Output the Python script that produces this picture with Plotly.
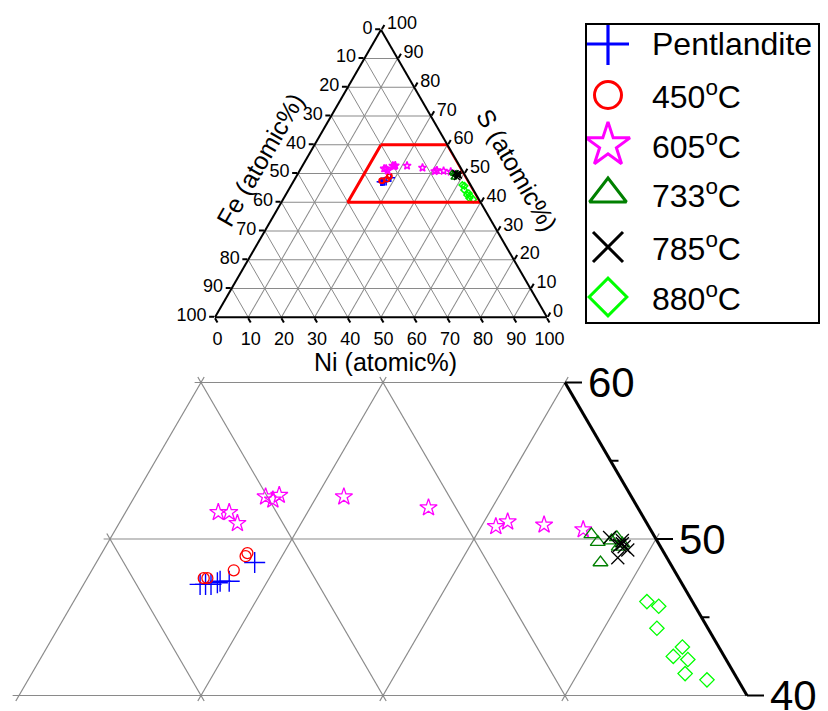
import plotly.graph_objects as go

FONT = "Liberation Sans, Arial, sans-serif"
W, H = 828, 711

# Compositions in atomic %; Fe is the balance (100 - S - Ni)
PENT_S = [47.1, 47.1, 47.1, 47.2, 47.3, 47.3, 48.5]
PENT_NI = [26.4, 26.7, 27.0, 27.3, 27.4, 27.9, 28.7]

T450_S = [47.5, 47.5, 48.0, 48.9, 49.1]
T450_NI = [26.4, 26.6, 27.8, 28.0, 28.0]

T605_S = [51.7, 51.7, 51.0, 52.7, 52.5, 52.8, 52.7, 52.0, 50.8, 51.1, 50.9, 50.6]
T605_NI = [25.1, 25.7, 26.5, 27.2, 27.7, 27.9, 31.5, 36.5, 40.8, 41.3, 43.4, 45.7]

T733_S = [50.3, 49.8, 48.5, 49.9, 50.1, 49.5, 49.7]
T733_NI = [46.3, 46.9, 47.7, 47.6, 47.8, 48.2, 48.3]

T785_S = [50.1, 48.8, 49.7, 49.5, 49.9, 49.3, 49.6]
T785_NI = [47.4, 48.5, 48.3, 48.5, 48.2, 48.8, 48.2]

T880_S = [46.0, 45.7, 44.3, 43.1, 42.5, 42.3, 41.4, 41.0]
T880_NI = [51.5, 52.3, 52.9, 54.9, 54.7, 55.6, 55.9, 57.3]

# Enlarged window: S between 40 and 60, Ni at least 20
WIN_S = [40, 60]
WIN_NI_MIN = 20
GRID_STEP = 10
TICK_VALUES = list(range(0, 101, 10))
WIN_LABELS = [40, 50, 60]
WIN_MINOR = [45, 55]

SERIES = [
    # name, S, Ni, symbol, colour, size (overview, window, key), line width (window, key)
    ("Pentlandite", PENT_S, PENT_NI, "cross-thin-open", "#0000ff", 6, 15, 30, 1.4, 3.2),
    ("450<sup>o</sup>C", T450_S, T450_NI, "circle-open", "#ff0000", 5, 11, 27, 1.3, 3.0),
    ("605<sup>o</sup>C", T605_S, T605_NI, "star-open", "#ff00ff", 6, 13, 33, 1.3, 3.0),
    ("733<sup>o</sup>C", T733_S, T733_NI, "triangle-up-open", "#008000", 5, 13, 32, 1.3, 3.0),
    ("785<sup>o</sup>C", T785_S, T785_NI, "x-thin-open", "#000000", 6, 13, 30, 1.3, 3.0),
    ("880<sup>o</sup>C", T880_S, T880_NI, "diamond-open", "#00ff00", 5, 11, 29, 1.3, 3.0),
]


def fe_of(s_list, ni_list):
    return [round(100 - s - n, 2) for s, n in zip(s_list, ni_list)]


def to_xy(s, ni):
    """Position inside the enlarged window: x runs along the Fe-Ni base, y is S."""
    return ni + s / 2.0, s


fig = go.Figure()

# ---------------- overview ternary diagram ----------------
for name, s, ni, sym, col, sz_top, _, _, _, _ in SERIES:
    fig.add_trace(go.Scatterternary(
        a=s, b=fe_of(s, ni), c=ni, mode="markers", subplot="ternary",
        marker=dict(symbol=sym, size=sz_top, color=col, line=dict(color=col, width=1.5)),
        showlegend=False, hoverinfo="skip"))

# red frame of the enlarged window
s_lo, s_hi = WIN_S
frame_s = [s_hi, s_hi, s_lo, s_lo, s_hi]
frame_ni = [WIN_NI_MIN, 100 - s_hi, 100 - s_lo, WIN_NI_MIN, WIN_NI_MIN]
fig.add_trace(go.Scatterternary(
    a=frame_s, b=fe_of(frame_s, frame_ni), c=frame_ni, mode="lines", subplot="ternary",
    line=dict(color="#ff0000", width=3), showlegend=False, hoverinfo="skip"))

axis_common = dict(
    tickmode="array", tickvals=TICK_VALUES, ticktext=[str(100 - v) for v in TICK_VALUES],
    showgrid=True, gridcolor="#8a8a8a", gridwidth=1,
    showline=True, linecolor="#000000", linewidth=2,
    ticks="outside", ticklen=5, tickcolor="#000000", tickwidth=1.5,
    tickfont=dict(family=FONT, size=18, color="#000000"),
    title=dict(text=""), min=0,
)

tx0, tx1, ty0, ty1 = 215, 547, 29, 318
fig.update_layout(ternary=dict(
    sum=100, bgcolor="#ffffff",
    domain=dict(x=[tx0 / W, tx1 / W], y=[1 - ty1 / H, 1 - ty0 / H]),
    aaxis=axis_common, baxis=axis_common, caxis=axis_common,
))

# ---------------- enlarged window ----------------
grid_segments = []
for s_val in range(s_lo, s_hi + 1, GRID_STEP):
    grid_segments.append(((s_val, WIN_NI_MIN), (s_val, 100 - s_val)))
for ni_val in range(WIN_NI_MIN, 100 - s_lo, GRID_STEP):
    top = min(s_hi, 100 - ni_val)
    grid_segments.append(((s_lo, ni_val), (top, ni_val)))
for fe_val in range(GRID_STEP, 100 - s_lo - WIN_NI_MIN, GRID_STEP):
    top = min(s_hi, 100 - fe_val - WIN_NI_MIN)
    grid_segments.append(((s_lo, 100 - fe_val - s_lo), (top, 100 - fe_val - top)))

# grid lines run slightly past the window border, leaving small crossing ticks
OVERRUN = 0.35
gx, gy = [], []
for (sa, na), (sb, nb) in grid_segments:
    length = max(abs(sb - sa), abs(nb - na))
    ds, dn = (sb - sa) / length * OVERRUN, (nb - na) / length * OVERRUN
    xa, ya = to_xy(sa - ds, na - dn)
    xb, yb = to_xy(sb + ds, nb + dn)
    gx += [xa, xb, None]
    gy += [ya, yb, None]
fig.add_trace(go.Scatter(x=gx, y=gy, mode="lines", xaxis="x2", yaxis="y2",
                         line=dict(color="#8a8a8a", width=1.2),
                         showlegend=False, hoverinfo="skip", cliponaxis=False))

# Fe = 0 edge with its ticks
ex, ey = [], []
for s_val in (s_hi, s_lo):
    x, y = to_xy(s_val, 100 - s_val)
    ex.append(x)
    ey.append(y)
fig.add_trace(go.Scatter(x=ex, y=ey, mode="lines", xaxis="x2", yaxis="y2",
                         line=dict(color="#000000", width=3),
                         showlegend=False, hoverinfo="skip", cliponaxis=False))

PX_PER_X = 18.2
tkx, tky = [], []
for s_val in WIN_LABELS + WIN_MINOR:
    x, y = to_xy(s_val, 100 - s_val)
    length = (17 if s_val in WIN_LABELS else 8) / PX_PER_X
    tkx += [x, x + length, None]
    tky += [y, y, None]
fig.add_trace(go.Scatter(x=tkx, y=tky, mode="lines", xaxis="x2", yaxis="y2",
                         line=dict(color="#000000", width=2),
                         showlegend=False, hoverinfo="skip", cliponaxis=False))

for s_val in WIN_LABELS:
    x, y = to_xy(s_val, 100 - s_val)
    fig.add_annotation(x=x + 21 / PX_PER_X, y=y, xref="x2", yref="y2", text=str(s_val),
                       showarrow=False, xanchor="left", yanchor="middle",
                       font=dict(family=FONT, size=42, color="#000000"))

for name, s, ni, sym, col, _, sz_win, _, lw_win, _ in SERIES:
    xs, ys = zip(*[to_xy(a, b) for a, b in zip(s, ni)])
    fig.add_trace(go.Scatter(
        x=list(xs), y=list(ys), mode="markers", xaxis="x2", yaxis="y2",
        marker=dict(symbol=sym, size=sz_win, color=col, line=dict(color=col, width=lw_win)),
        showlegend=False, hoverinfo="skip", cliponaxis=False))

# ---------------- key ----------------
KEY_ROWS = [20, 71, 121, 170, 223, 273]
for (name, _, _, sym, col, _, _, sz_key, _, lw_key), row in zip(SERIES, KEY_ROWS):
    fig.add_trace(go.Scatter(
        x=[22], y=[row], mode="markers", xaxis="x3", yaxis="y3",
        marker=dict(symbol=sym, size=sz_key, color=col, line=dict(color=col, width=lw_key)),
        showlegend=False, hoverinfo="skip", cliponaxis=False))
    fig.add_annotation(x=64, y=row, xref="x3", yref="y3", text=name, showarrow=False,
                       xanchor="left", yanchor="middle",
                       font=dict(family=FONT, size=32, color="#000000"))

kx0, kx1, ky0, ky1 = 586, 819, 24, 323
fig.add_shape(type="rect", xref="paper", yref="paper",
              x0=kx0 / W, x1=kx1 / W, y0=1 - ky1 / H, y1=1 - ky0 / H,
              line=dict(color="#000000", width=2), fillcolor="rgba(0,0,0,0)")

# ---------------- axis titles of the overview ----------------
title_font = dict(family=FONT, size=25, color="#000000")
fig.add_annotation(x=385 / W, y=1 - 362 / H, xref="paper", yref="paper",
                   text="Ni (atomic%)", showarrow=False, xanchor="center", yanchor="middle",
                   font=title_font)
fig.add_annotation(x=260 / W, y=1 - 160 / H, xref="paper", yref="paper",
                   text="Fe (atomic%)", showarrow=False, textangle=-60,
                   xanchor="center", yanchor="middle", font=title_font)
fig.add_annotation(x=517 / W, y=1 - 170 / H, xref="paper", yref="paper",
                   text="S (atomic%)", showarrow=False, textangle=60,
                   xanchor="center", yanchor="middle", font=title_font)

# window geometry: 18.2 px per unit along the base, 15.65 px per unit of S
wy_top = 370
fig.update_layout(
    width=W, height=H, margin=dict(l=0, r=0, t=0, b=0),
    paper_bgcolor="#ffffff", plot_bgcolor="rgba(0,0,0,0)",
    xaxis2=dict(domain=[0, 1], range=[709 / 18.2, (W + 709) / 18.2], visible=False,
                anchor="y2"),
    yaxis2=dict(domain=[0, (H - wy_top) / H],
                range=[50 - (H - 539) / 15.65, 50 + (539 - wy_top) / 15.65],
                visible=False, anchor="x2"),
    xaxis3=dict(domain=[kx0 / W, kx1 / W], range=[0, kx1 - kx0], visible=False, anchor="y3"),
    yaxis3=dict(domain=[1 - ky1 / H, 1 - ky0 / H], range=[ky1 - ky0, 0], visible=False,
                anchor="x3"),
    showlegend=False,
)

fig.write_html("out.html")
